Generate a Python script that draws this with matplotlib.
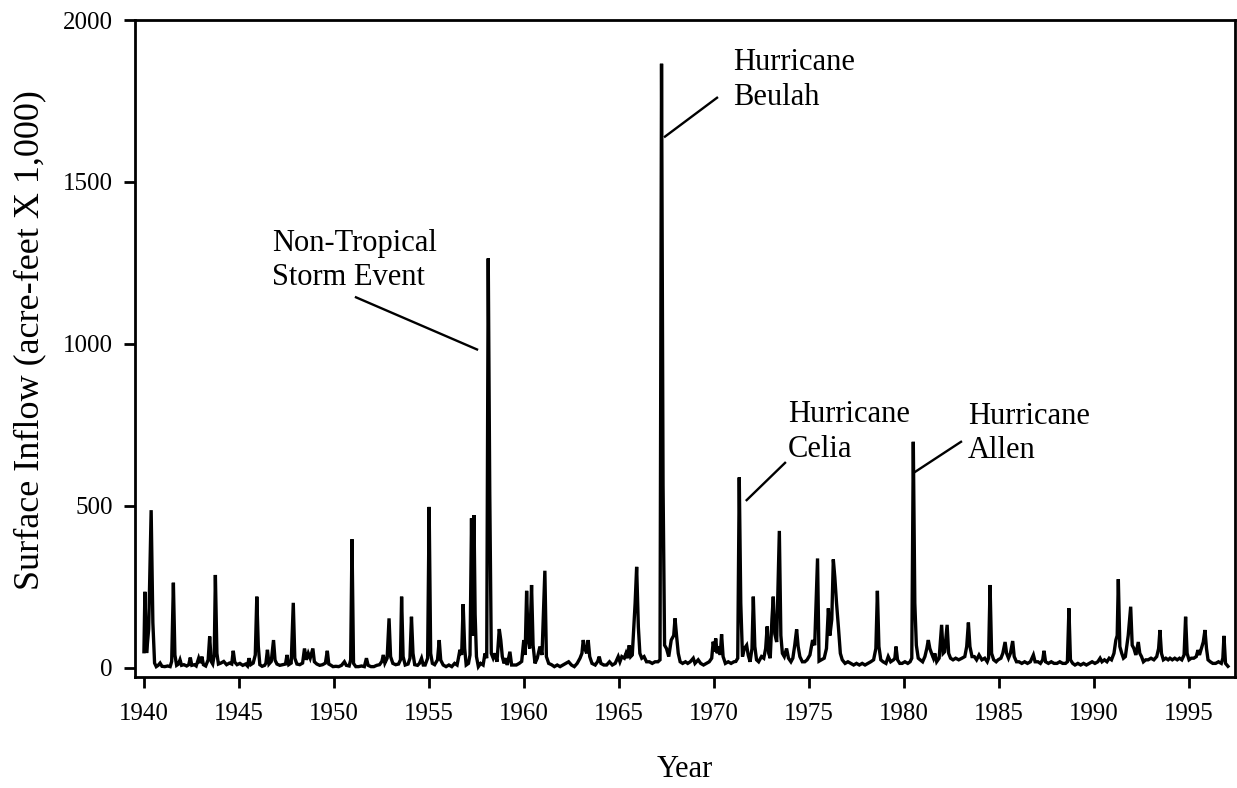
"""Monthly surface inflow, 1940-1997, with the large storm events labelled."""
import matplotlib

matplotlib.use("Agg")
import matplotlib.pyplot as plt
import numpy as np

plt.rcParams["font.family"] = ["Liberation Serif", "DejaVu Serif"]

# inflow (acre-feet x 1,000), split by decade
years_1940s = [
    1940.00, 1940.05, 1940.14, 1940.25, 1940.38, 1940.47, 1940.56, 1940.65, 1940.75, 1940.85,
    1940.95, 1941.10, 1941.25, 1941.38, 1941.46, 1941.55, 1941.63, 1941.72, 1941.82, 1941.90,
    1941.98, 1942.10, 1942.25, 1942.36, 1942.44, 1942.52, 1942.65, 1942.75, 1942.88, 1942.96,
    1943.05, 1943.13, 1943.25, 1943.38, 1943.46, 1943.54, 1943.62, 1943.70, 1943.76, 1943.84,
    1943.92, 1944.05, 1944.20, 1944.35, 1944.50, 1944.62, 1944.70, 1944.78, 1944.90, 1945.05,
    1945.20, 1945.35, 1945.45, 1945.53, 1945.62, 1945.75, 1945.86, 1945.94, 1946.02, 1946.10,
    1946.22, 1946.35, 1946.42, 1946.50, 1946.58, 1946.70, 1946.82, 1946.90, 1947.00, 1947.15,
    1947.30, 1947.45, 1947.53, 1947.62, 1947.75, 1947.86, 1947.94, 1948.05, 1948.20, 1948.35,
    1948.45, 1948.55, 1948.65, 1948.75, 1948.89, 1948.97, 1949.10, 1949.25, 1949.40, 1949.55,
    1949.65, 1949.73, 1949.85, 1949.95,
]
inflow_1940s = [
    50, 235, 46, 120, 487, 140, 15, 4, 8, 15,
    5, 4, 6, 4, 20, 263, 40, 8, 12, 25,
    8, 10, 6, 10, 32, 8, 10, 6, 30, 15,
    35, 10, 6, 25, 97, 20, 12, 40, 287, 45,
    12, 15, 20, 10, 15, 12, 53, 18, 10, 14,
    8, 12, 6, 30, 10, 15, 40, 220, 66, 10,
    5, 8, 15, 56, 12, 20, 86, 24, 12, 8,
    10, 12, 40, 10, 15, 201, 30, 12, 10, 15,
    60, 25, 45, 30, 60, 19, 12, 8, 10, 15,
    53, 12, 8, 4,
]

years_1950s = [
    1950.10, 1950.25, 1950.40, 1950.55, 1950.65, 1950.80, 1950.88, 1950.95, 1951.03, 1951.15,
    1951.30, 1951.45, 1951.60, 1951.71, 1951.80, 1951.95, 1952.10, 1952.25, 1952.40, 1952.52,
    1952.60, 1952.68, 1952.80, 1952.90, 1952.98, 1953.10, 1953.25, 1953.40, 1953.50, 1953.56,
    1953.64, 1953.75, 1953.90, 1954.00, 1954.08, 1954.16, 1954.25, 1954.40, 1954.50, 1954.61,
    1954.70, 1954.80, 1954.93, 1955.01, 1955.09, 1955.18, 1955.30, 1955.45, 1955.54, 1955.62,
    1955.75, 1955.90, 1956.05, 1956.20, 1956.35, 1956.48, 1956.55, 1956.63, 1956.72, 1956.80,
    1956.88, 1956.96, 1957.08, 1957.16, 1957.24, 1957.30, 1957.37, 1957.43, 1957.50, 1957.60,
    1957.72, 1957.85, 1957.95, 1958.04, 1958.12, 1958.20, 1958.28, 1958.38, 1958.48, 1958.58,
    1958.70, 1958.78, 1958.86, 1958.95, 1959.05, 1959.12, 1959.26, 1959.35, 1959.45, 1959.60,
    1959.75, 1959.88, 1959.99,
]
inflow_1950s = [
    5, 4, 8, 19, 8, 6, 25, 397, 14, 4,
    4, 6, 4, 30, 8, 4, 4, 8, 10, 20,
    40, 15, 30, 153, 35, 14, 10, 12, 25, 220,
    35, 9, 12, 30, 158, 45, 10, 8, 14, 30,
    9, 9, 30, 497, 45, 14, 10, 25, 86, 24,
    9, 4, 9, 4, 14, 9, 30, 56, 40, 197,
    60, 9, 14, 40, 462, 100, 472, 165, 35, 4,
    14, 9, 45, 30, 1264, 540, 45, 30, 45, 19,
    120, 86, 35, 14, 30, 9, 50, 9, 9, 9,
    14, 20, 86,
]

years_1960s = [
    1960.06, 1960.14, 1960.22, 1960.30, 1960.40, 1960.48, 1960.58, 1960.70, 1960.84, 1960.95,
    1961.10, 1961.18, 1961.30, 1961.45, 1961.60, 1961.75, 1961.90, 1962.05, 1962.20, 1962.35,
    1962.50, 1962.65, 1962.80, 1962.95, 1963.05, 1963.12, 1963.20, 1963.30, 1963.38, 1963.46,
    1963.58, 1963.75, 1963.88, 1963.96, 1964.05, 1964.20, 1964.35, 1964.50, 1964.65, 1964.80,
    1964.96, 1965.05, 1965.15, 1965.28, 1965.37, 1965.45, 1965.54, 1965.62, 1965.70, 1965.85,
    1965.93, 1966.02, 1966.10, 1966.20, 1966.32, 1966.45, 1966.60, 1966.75, 1966.90, 1967.05,
    1967.16, 1967.24, 1967.32, 1967.40, 1967.50, 1967.62, 1967.75, 1967.88, 1967.95, 1968.03,
    1968.12, 1968.22, 1968.35, 1968.50, 1968.62, 1968.75, 1968.91, 1969.00, 1969.17, 1969.30,
    1969.45, 1969.60, 1969.75, 1969.88, 1969.96,
]
inflow_1960s = [
    40, 238, 86, 60, 256, 70, 14, 30, 66, 40,
    300, 35, 14, 10, 4, 9, 4, 9, 14, 19,
    9, 4, 14, 30, 45, 86, 60, 45, 86, 35,
    14, 9, 20, 35, 14, 9, 9, 19, 9, 14,
    35, 19, 35, 30, 45, 30, 70, 35, 40, 200,
    312, 127, 45, 30, 35, 19, 19, 14, 19, 19,
    25, 1865, 565, 70, 60, 35, 86, 100, 153, 100,
    45, 19, 14, 19, 14, 19, 30, 14, 25, 14,
    9, 14, 19, 30, 81,
]

years_1970s = [
    1970.03, 1970.09, 1970.17, 1970.25, 1970.33, 1970.40, 1970.48, 1970.60, 1970.75, 1970.90,
    1971.05, 1971.15, 1971.25, 1971.33, 1971.41, 1971.50, 1971.60, 1971.72, 1971.80, 1971.90,
    1972.00, 1972.07, 1972.15, 1972.24, 1972.35, 1972.50, 1972.62, 1972.72, 1972.80, 1972.88,
    1972.96, 1973.05, 1973.12, 1973.20, 1973.30, 1973.44, 1973.52, 1973.60, 1973.70, 1973.82,
    1973.92, 1974.05, 1974.15, 1974.25, 1974.35, 1974.43, 1974.52, 1974.65, 1974.78, 1974.90,
    1975.05, 1975.19, 1975.30, 1975.45, 1975.53, 1975.65, 1975.80, 1975.92, 1976.02, 1976.10,
    1976.20, 1976.28, 1976.36, 1976.45, 1976.55, 1976.65, 1976.75, 1976.90, 1977.05, 1977.20,
    1977.35, 1977.50, 1977.65, 1977.80, 1977.95, 1978.10, 1978.25, 1978.40, 1978.52, 1978.60,
    1978.68, 1978.78, 1978.90, 1979.05, 1979.17, 1979.30, 1979.45, 1979.52, 1979.58, 1979.66,
    1979.78, 1979.90,
]
inflow_1970s = [
    50, 91, 45, 66, 40, 104, 35, 14, 19, 14,
    19, 20, 30, 588, 200, 35, 60, 70, 40, 19,
    60, 220, 66, 25, 19, 35, 30, 60, 128, 45,
    30, 150, 220, 105, 80, 423, 100, 45, 35, 60,
    30, 19, 30, 70, 119, 66, 35, 19, 19, 25,
    40, 86, 70, 338, 21, 25, 30, 60, 184, 100,
    150, 335, 280, 200, 125, 45, 25, 14, 19, 14,
    9, 14, 9, 14, 9, 14, 19, 25, 60, 238,
    66, 25, 19, 14, 35, 19, 25, 30, 66, 25,
    14, 14,
]

years_1980s = [
    1980.05, 1980.20, 1980.32, 1980.41, 1980.49, 1980.57, 1980.65, 1980.75, 1980.85, 1980.98,
    1981.10, 1981.20, 1981.28, 1981.36, 1981.45, 1981.55, 1981.62, 1981.72, 1981.85, 1981.98,
    1982.06, 1982.14, 1982.27, 1982.35, 1982.45, 1982.58, 1982.72, 1982.88, 1983.05, 1983.20,
    1983.30, 1983.39, 1983.47, 1983.58, 1983.70, 1983.82, 1983.95, 1984.10, 1984.25, 1984.38,
    1984.45, 1984.53, 1984.61, 1984.72, 1984.85, 1984.95, 1985.10, 1985.20, 1985.32, 1985.40,
    1985.50, 1985.60, 1985.72, 1985.80, 1985.92, 1986.05, 1986.20, 1986.35, 1986.50, 1986.65,
    1986.81, 1986.90, 1987.05, 1987.18, 1987.30, 1987.37, 1987.45, 1987.60, 1987.75, 1987.90,
    1988.05, 1988.20, 1988.35, 1988.50, 1988.60, 1988.68, 1988.76, 1988.88, 1989.00, 1989.15,
    1989.30, 1989.45, 1989.60, 1989.75, 1989.90,
]
inflow_1980s = [
    19, 14, 19, 30, 698, 200, 70, 30, 25, 19,
    35, 60, 86, 60, 45, 30, 45, 19, 30, 133,
    45, 50, 133, 45, 30, 25, 30, 25, 30, 35,
    66, 140, 66, 35, 35, 25, 40, 25, 30, 19,
    30, 256, 45, 25, 19, 25, 30, 45, 80, 45,
    30, 45, 83, 35, 19, 19, 14, 19, 14, 19,
    40, 19, 19, 14, 25, 53, 19, 14, 19, 14,
    14, 19, 14, 14, 19, 184, 25, 14, 9, 14,
    9, 14, 9, 14, 19,
]

years_1990s = [
    1990.05, 1990.20, 1990.32, 1990.42, 1990.55, 1990.68, 1990.80, 1990.92, 1991.05, 1991.15,
    1991.22, 1991.28, 1991.36, 1991.46, 1991.55, 1991.65, 1991.80, 1991.93, 1992.01, 1992.10,
    1992.20, 1992.33, 1992.41, 1992.50, 1992.60, 1992.72, 1992.85, 1993.00, 1993.15, 1993.30,
    1993.40, 1993.47, 1993.55, 1993.65, 1993.78, 1993.90, 1994.00, 1994.12, 1994.25, 1994.38,
    1994.50, 1994.62, 1994.74, 1994.82, 1994.90, 1995.00, 1995.12, 1995.25, 1995.38, 1995.47,
    1995.55, 1995.65, 1995.75, 1995.84, 1995.92, 1996.00, 1996.12, 1996.25, 1996.40, 1996.55,
    1996.70, 1996.78, 1996.84, 1996.92, 1997.05,
]
inflow_1990s = [
    14, 19, 30, 19, 25, 19, 30, 25, 45, 86,
    100, 274, 66, 45, 30, 35, 100, 189, 70, 60,
    40, 80, 45, 35, 19, 25, 25, 30, 25, 35,
    60, 117, 45, 25, 30, 25, 30, 25, 30, 25,
    30, 25, 40, 158, 45, 25, 30, 30, 35, 55,
    40, 60, 80, 117, 60, 25, 19, 14, 14, 19,
    14, 30, 99, 14, 5,
]

x_ticks = [1940, 1945, 1950, 1955, 1960, 1965, 1970, 1975, 1980, 1985, 1990, 1995]
y_ticks = [0, 500, 1000, 1500, 2000]

# label text, last-line baseline anchor, leader line start and end
events = [
    ("Hurricane\nBeulah", (1971.0, 1738), (1967.42, 1640), (1970.16, 1760)),
    ("Non-Tropical\nStorm Event", (1946.74, 1182), (1951.16, 1144), (1957.53, 983)),
    ("Hurricane\nCelia", (1973.9, 652), (1971.72, 518), (1973.74, 633)),
    ("Hurricane\nAllen", (1983.37, 647), (1980.58, 605), (1983.0, 698)),
]


def main() -> None:
    years = np.concatenate([years_1940s, years_1950s, years_1960s,
                            years_1970s, years_1980s, years_1990s])
    inflow = np.concatenate([inflow_1940s, inflow_1950s, inflow_1960s,
                             inflow_1970s, inflow_1980s, inflow_1990s])

    fig = plt.figure(figsize=(12.37, 7.88), dpi=100)
    ax = fig.add_axes([135 / 1237, 1 - 677 / 788, 1100 / 1237, 657 / 788])

    ax.plot(years, inflow, color="black", linewidth=2.4, solid_joinstyle="miter")

    for label, text_xy, start, end in events:
        ax.plot([start[0], end[0]], [start[1], end[1]], color="black", linewidth=1.7)
        ax.text(text_xy[0], text_xy[1], label, fontsize=22, ha="left", va="baseline",
                linespacing=1.25)

    ax.set_xlim(1939.53, 1997.42)
    ax.set_ylim(-28, 2000)
    ax.set_xticks(x_ticks)
    ax.set_yticks(y_ticks)
    ax.tick_params(axis="both", direction="out", length=8, width=2, labelsize=18)
    ax.tick_params(axis="x", pad=11)
    ax.tick_params(axis="y", pad=8)
    for spine in ax.spines.values():
        spine.set_linewidth(2.0)

    ax.set_xlabel("Year", fontsize=22, labelpad=21)
    ax.set_ylabel("Surface Inflow (acre-feet X 1,000)", fontsize=26)
    ax.yaxis.set_label_coords(-0.081, 0.513)

    fig.savefig("out.png", dpi=100)
    plt.close(fig)


if __name__ == "__main__":
    main()
